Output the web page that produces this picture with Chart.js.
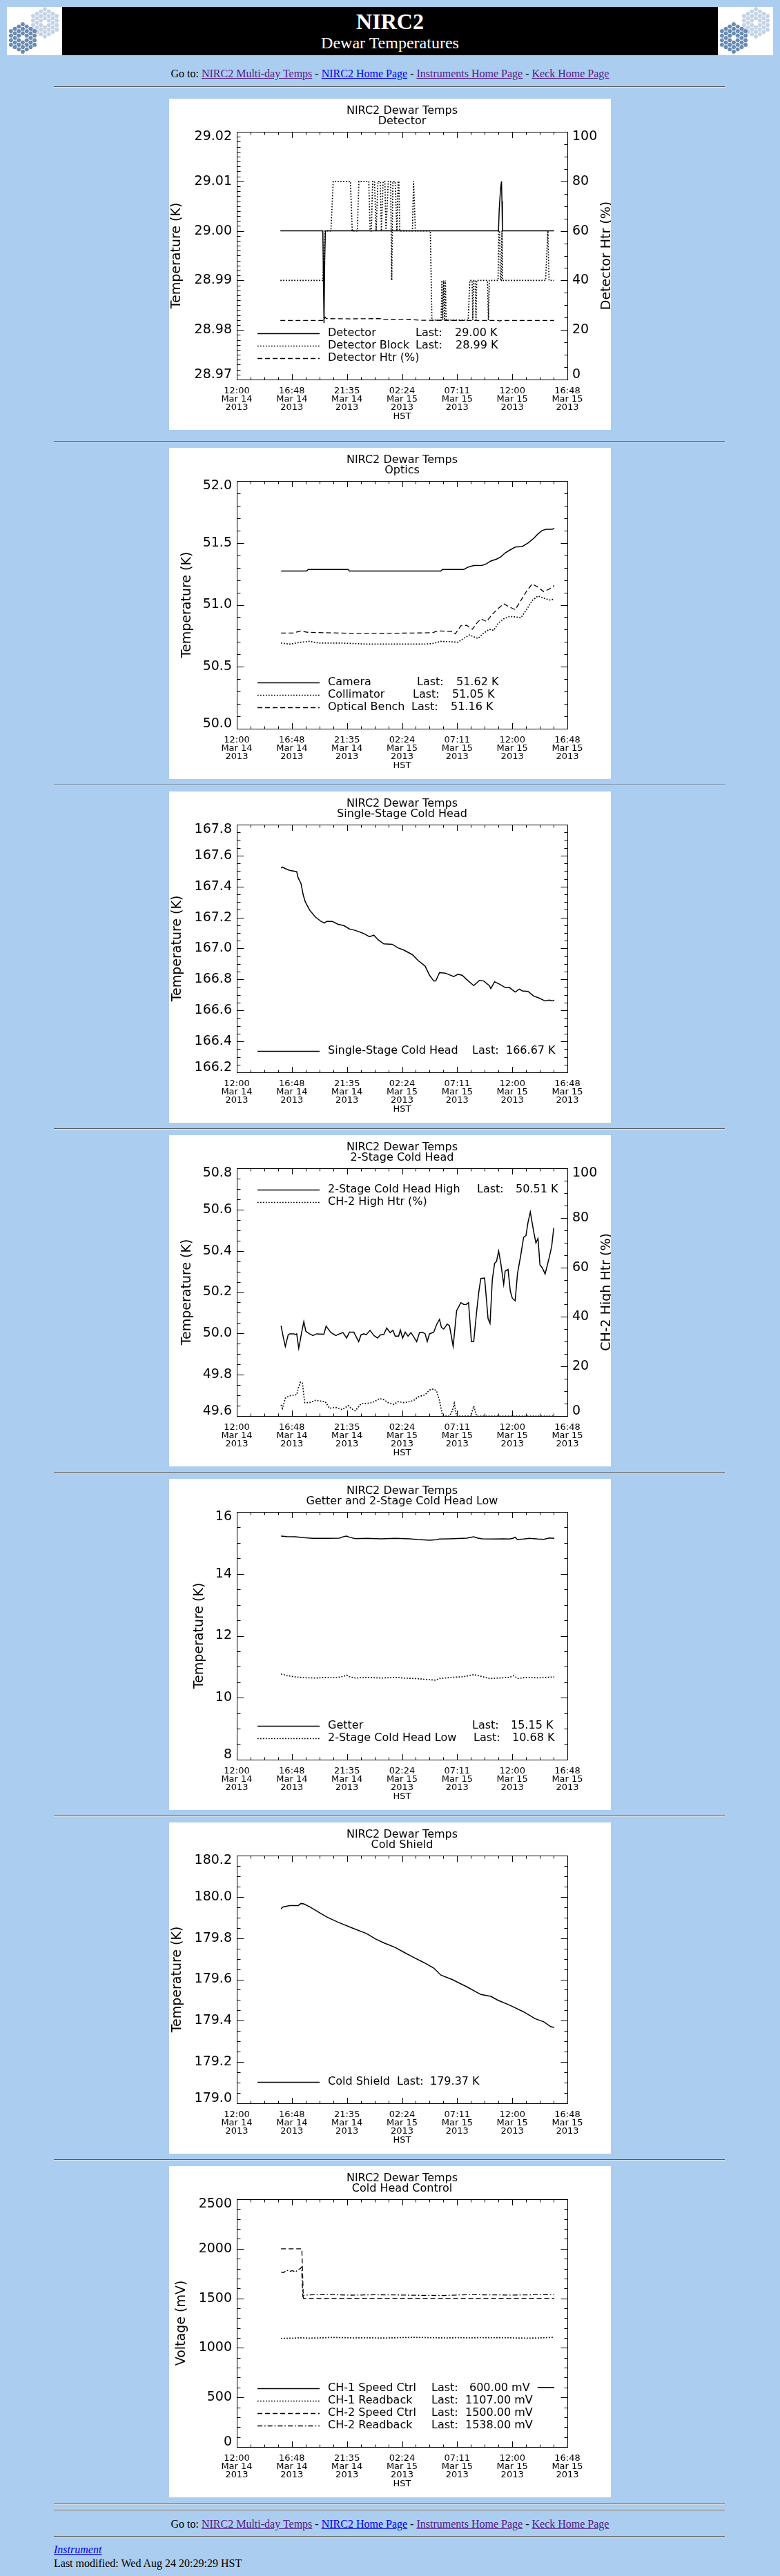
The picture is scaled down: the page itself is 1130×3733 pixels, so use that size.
<!DOCTYPE html>
<html>
<head>
<meta charset="utf-8">
<title>NIRC2 Dewar Temperatures</title>
<script src="https://cdn.jsdelivr.net/npm/chart.js@4.4.1/dist/chart.umd.min.js"></script>
<style>
  body { margin: 0; background: #abcdef; font-family: "Liberation Serif", "Times New Roman", serif; color: #000; }
  #page { position: relative; width: 1130px; height: 3733px; overflow: hidden; }
  .hr { position: absolute; left: 78px; width: 972px; height: 0; border-top: 1px solid #5b5b5b; border-bottom: 1px solid #d9e4ef; }
  .line { position: absolute; font-size: 16px; line-height: 16px; white-space: nowrap; }
  .goto { left: 0; width: 1130px; text-align: center; }
  a { color: #551a8b; }
  a.fresh { color: #0000ee; }
  canvas.plot { position: absolute; left: 245px; background: #fff; }
  .logo { position: absolute; top: 10px; }
  #band { position: absolute; left: 90px; top: 10px; width: 950px; height: 70px; background: #000; color: #fff; text-align: center; }
  #band div { position: absolute; left: 0; right: 0; }
</style>
</head>
<body>
<div id="page">
  <canvas id="logoL" class="logo" width="80" height="70" style="left:10px"></canvas>
  <div id="band">
    <div style="top:5px;font-size:32px;line-height:32px;font-weight:bold">NIRC2</div>
    <div style="top:40px;font-size:24px;line-height:24px">Dewar Temperatures</div>
  </div>
  <canvas id="logoR" class="logo" width="80" height="70" style="left:1040px"></canvas>

  <div class="line goto" style="top:99px">Go to: <a href="#">NIRC2 Multi-day Temps</a> - <a class="fresh" href="#">NIRC2 Home Page</a> - <a href="#">Instruments Home Page</a> - <a href="#">Keck Home Page</a></div>
  <div class="hr" style="top:125px"></div>

  <canvas id="c1" class="plot" width="640" height="480" style="top:143px"></canvas>
  <div class="hr" style="top:639px"></div>
  <canvas id="c2" class="plot" width="640" height="480" style="top:649px"></canvas>
  <div class="hr" style="top:1137px"></div>
  <canvas id="c3" class="plot" width="640" height="480" style="top:1147px"></canvas>
  <div class="hr" style="top:1635px"></div>
  <canvas id="c4" class="plot" width="640" height="480" style="top:1645px"></canvas>
  <div class="hr" style="top:2133px"></div>
  <canvas id="c5" class="plot" width="640" height="480" style="top:2143px"></canvas>
  <div class="hr" style="top:2631px"></div>
  <canvas id="c6" class="plot" width="640" height="480" style="top:2641px"></canvas>
  <div class="hr" style="top:3129px"></div>
  <canvas id="c7" class="plot" width="640" height="480" style="top:3139px"></canvas>

  <div class="hr" style="top:3628px"></div>
  <div class="hr" style="top:3637px"></div>
  <div class="line goto" style="top:3650px">Go to: <a href="#">NIRC2 Multi-day Temps</a> - <a class="fresh" href="#">NIRC2 Home Page</a> - <a href="#">Instruments Home Page</a> - <a href="#">Keck Home Page</a></div>
  <div class="hr" style="top:3675px"></div>
  <div class="line" style="left:78px;top:3687px"><i><a class="fresh" href="#">Instrument</a></i></div>
  <div class="line" style="left:78px;top:3707px">Last modified: Wed Aug 24 20:29:29 HST</div>
</div>

<script>
const FONT = '"DejaVu Sans", Verdana, sans-serif';
Chart.defaults.font.family = FONT;
Chart.defaults.color = '#000';

// time axis: hours after 12:00 HST, Mar 14 2013
const xTickHours = [0, 4.8, 9.6, 14.4, 19.2, 24, 28.8];
const xTickTimes = ['12:00', '16:48', '21:35', '02:24', '07:11', '12:00', '16:48'];
const xTickDates = ['Mar 14', 'Mar 14', 'Mar 14', 'Mar 15', 'Mar 15', 'Mar 15', 'Mar 15'];
const xTickYears = ['2013', '2013', '2013', '2013', '2013', '2013', '2013'];

// detector
const detTicks = ['28.97', '28.98', '28.99', '29.00', '29.01', '29.02'];
const pctTicks = ['0', '20', '40', '60', '80', '100'];
const detTime = [3.80, 7.50, 7.53, 7.57, 7.60, 7.66, 7.72, 22.80, 22.86, 22.92, 23.00, 23.06, 23.10, 23.14, 27.64];
const detTemp = [29.000, 29.000, 28.9937, 28.9867, 28.9814, 28.9937, 29.000, 29.000, 29.0042, 29.0065, 29.009, 29.010, 29.006, 29.000, 29.000];
const blkTime = [3.80, 7.50, 7.70, 8.20, 8.40, 9.90, 10.06, 10.50, 10.64, 11.50,
  11.62, 11.72, 11.84, 12.00, 12.14, 12.30, 12.50, 12.60, 12.75, 12.90,
  13.00, 13.20, 13.40, 13.50, 13.60, 13.80, 13.95, 14.06, 14.12, 14.20,
  15.30, 15.40, 15.56, 16.86, 17.00, 17.80, 17.87, 17.94, 18.02, 18.10,
  18.17, 18.24, 20.16, 20.30, 20.50, 20.56, 20.62, 20.76, 20.84, 20.90,
  21.84, 21.92, 22.00, 22.76, 22.82, 22.90, 22.96, 23.04, 23.10, 23.16,
  26.90, 27.10, 27.20, 27.64];
const blkTemp = [28.990, 28.990, 29.000, 29.000, 29.010, 29.010, 29.000, 29.000, 29.010, 29.010,
  29.000, 29.000, 29.010, 29.010, 29.000, 29.010, 29.010, 29.000, 29.010, 29.010,
  29.000, 29.010, 29.010, 28.990, 29.010, 29.010, 29.000, 29.010, 29.010, 29.000,
  29.000, 29.010, 29.000, 29.000, 28.982, 28.982, 28.990, 28.982, 28.990, 28.982,
  28.990, 28.982, 28.982, 28.990, 28.990, 28.982, 28.990, 28.990, 28.982, 28.990,
  28.990, 28.982, 28.990, 28.990, 29.000, 29.000, 28.990, 28.990, 29.000, 28.990,
  28.990, 29.000, 28.990, 28.990];
const htrTime = [3.80, 7.60, 7.70, 7.80, 10.00, 12.50, 12.70, 15.00, 16.00, 22.80, 22.90, 23.00, 27.64];
const htrPct = [23.85, 23.85, 25.2, 24.6, 24.5, 24.6, 24.2, 24.3, 23.9, 23.85, 23.6, 23.85, 23.85];

// optics
const optTicks = ['50.0', '50.5', '51.0', '51.5', '52.0'];
const camTime = [3.86, 6.09, 6.22, 9.70, 9.82, 17.78, 17.91, 19.77, 20.14, 20.64, 21.39, 21.76, 22.13,
  22.63, 23.01, 23.38, 23.75, 24.25, 24.87, 25.37, 25.86, 26.24, 26.61, 26.98, 27.48, 27.66];
const camTemp = [51.273, 51.273, 51.286, 51.286, 51.273, 51.273, 51.286, 51.286, 51.304, 51.317, 51.319, 51.332, 51.354,
  51.369, 51.388, 51.419, 51.440, 51.466, 51.471, 51.499, 51.536, 51.573, 51.601, 51.610, 51.610, 51.618];
const colTime = [3.86, 4.60, 5.60, 6.34, 7.09, 8.83, 10.07, 11.32, 13.80, 16.29,
  17.04, 17.78, 18.78, 19.27, 19.77, 20.27, 20.64, 21.02, 21.51, 22.01,
  22.38, 22.76, 23.25, 23.75, 24.25, 24.75, 25.24, 25.74, 26.24, 26.74, 27.23, 27.66];
const colTemp = [50.692, 50.683, 50.698, 50.705, 50.692, 50.692, 50.688, 50.683, 50.683, 50.683,
  50.687, 50.705, 50.701, 50.698, 50.729, 50.757, 50.742, 50.729, 50.772, 50.803,
  50.794, 50.850, 50.887, 50.906, 50.903, 50.896, 50.961, 51.035, 51.072, 51.054, 51.039, 51.045];
const benTime = [3.86, 4.85, 5.60, 6.09, 7.59, 10.07, 12.56, 15.05, 17.04, 17.53,
  18.78, 19.03, 19.52, 20.02, 20.52, 20.89, 21.26, 21.76, 22.26, 22.76,
  23.25, 23.75, 24.25, 24.75, 25.24, 25.74, 26.24, 26.74, 27.23, 27.66];
const benTemp = [50.772, 50.772, 50.790, 50.779, 50.775, 50.770, 50.770, 50.772, 50.775, 50.790,
  50.785, 50.766, 50.831, 50.835, 50.803, 50.850, 50.887, 50.865, 50.924, 50.970,
  51.008, 50.983, 50.961, 51.035, 51.110, 51.169, 51.143, 51.106, 51.128, 51.156];

// single-stage cold head
const sschTicks = ['166.2', '166.4', '166.6', '166.8', '167.0', '167.2', '167.4', '167.6', '167.8'];
const sschTime = [3.86, 3.98, 4.23, 4.60, 5.22, 5.35, 5.60, 5.79, 5.97, 6.34,
  6.84, 7.34, 7.64, 7.83, 8.33, 8.83, 9.33, 9.82, 10.07, 10.57,
  11.07, 11.56, 11.94, 12.31, 12.81, 13.55, 14.05, 14.55, 15.30, 15.79,
  16.41, 16.79, 17.16, 17.33, 17.66, 18.16, 18.90, 19.27, 19.65, 20.02,
  20.64, 21.14, 21.51, 22.01, 22.13, 22.46, 22.88, 23.38, 23.75, 24.25,
  24.62, 24.87, 25.37, 25.86, 26.36, 26.86, 27.23, 27.48, 27.66];
const sschTemp = [167.519, 167.526, 167.516, 167.505, 167.496, 167.456, 167.419, 167.345, 167.301, 167.249,
  167.204, 167.175, 167.164, 167.175, 167.175, 167.156, 167.148, 167.126, 167.122, 167.111,
  167.096, 167.076, 167.086, 167.056, 167.030, 167.027, 167.004, 166.990, 166.960, 166.923,
  166.886, 166.827, 166.790, 166.790, 166.844, 166.841, 166.819, 166.834, 166.826, 166.800,
  166.760, 166.794, 166.790, 166.760, 166.741, 166.785, 166.770, 166.748, 166.748, 166.719,
  166.738, 166.726, 166.723, 166.693, 166.679, 166.661, 166.667, 166.661, 166.667];

// 2-stage cold head
const ch2Ticks = ['49.6', '49.8', '50.0', '50.2', '50.4', '50.6', '50.8'];
const ch2hTime = [3.86, 4.05, 4.23, 4.48, 4.60, 4.97, 5.10, 5.22, 5.40, 5.65,
  5.84, 6.02, 6.34, 6.64, 6.96, 7.59, 7.78, 8.21, 8.63, 8.95,
  9.25, 9.57, 9.82, 10.20, 10.62, 10.82, 11.07, 11.27, 11.61, 11.94,
  12.26, 12.51, 12.81, 13.06, 13.36, 13.60, 13.80, 14.10, 14.25, 14.45,
  14.67, 14.92, 15.17, 15.34, 15.67, 15.92, 16.17, 16.41, 16.59, 16.79,
  17.16, 17.41, 17.66, 17.83, 18.03, 18.33, 18.53, 18.85, 19.15, 19.52,
  19.77, 19.97, 20.19, 20.44, 20.64, 20.89, 21.09, 21.26, 21.59, 21.89,
  22.06, 22.26, 22.46, 22.63, 22.81, 23.00, 23.25, 23.38, 23.63, 23.83,
  24.00, 24.25, 24.45, 24.75, 24.99, 25.19, 25.37, 25.57, 25.86, 26.06,
  26.24, 26.41, 26.61, 26.86, 27.23, 27.43, 27.61];
const ch2hTemp = [50.037, 49.982, 49.937, 49.993, 49.998, 49.998, 49.995, 49.998, 49.928, 50.004,
  50.057, 50.010, 49.998, 49.990, 49.998, 49.996, 50.035, 50.004, 49.990, 49.998,
  50.004, 49.978, 50.006, 50.006, 49.960, 49.993, 49.998, 49.993, 50.015, 49.990,
  49.978, 49.993, 49.995, 50.026, 50.004, 50.015, 49.987, 49.987, 50.017, 49.978,
  50.006, 49.987, 50.004, 49.990, 49.960, 50.004, 50.006, 49.998, 49.960, 49.998,
  50.006, 50.043, 50.068, 50.029, 50.021, 50.045, 50.037, 49.937, 50.110, 50.149,
  50.141, 50.140, 50.149, 49.960, 49.960, 50.104, 50.204, 50.266, 50.268, 50.071,
  50.049, 50.260, 50.340, 50.349, 50.399, 50.340, 50.238, 50.302, 50.310, 50.204,
  50.171, 50.158, 50.288, 50.383, 50.466, 50.474, 50.538, 50.588, 50.494, 50.438,
  50.460, 50.332, 50.318, 50.288, 50.371, 50.421, 50.511];
const ch2HtrTime = [3.86, 3.98, 4.23, 4.60, 5.22, 5.40, 5.55, 5.72, 5.92, 6.34,
  6.84, 7.71, 8.08, 8.58, 9.20, 9.70, 9.95, 10.32, 10.82, 11.32,
  11.81, 12.43, 12.81, 13.18, 13.68, 14.05, 14.55, 15.05, 15.42, 15.79,
  16.41, 16.79, 17.16, 17.41, 17.66, 17.91, 18.16, 18.53, 18.78, 18.95,
  19.15, 20.39, 20.64, 20.89, 27.66];
const ch2HtrPct = [4.5, 3.1, 7.2, 8.2, 8.6, 11.9, 13.7, 13.3, 5.4, 5.4,
  6.3, 5.8, 3.1, 3.5, 2.6, 4.2, 3.1, 2.1, 4.9, 5.1,
  5.4, 7.0, 6.6, 5.4, 4.7, 5.8, 5.4, 5.8, 6.3, 7.7,
  8.6, 10.5, 10.9, 10.0, 6.3, 0.3, 0, 0, 2.1, 5.1,
  0, 0, 4.0, 0, 0];

// getter and 2-stage cold head low
const getTicks = ['8', '10', '12', '14', '16'];
const getTime = [3.86, 4.35, 5.10, 5.84, 6.59, 7.83, 8.95, 9.33, 9.57, 9.82,
  10.32, 11.32, 12.56, 13.80, 15.05, 15.79, 16.79, 17.41, 17.66, 18.53,
  20.02, 20.64, 21.01, 21.39, 22.26, 23.25, 23.75, 24.05, 24.25, 24.45,
  24.99, 25.49, 26.24, 26.74, 27.23, 27.66];
const getTemp = [15.221, 15.206, 15.199, 15.169, 15.147, 15.147, 15.154, 15.206, 15.221, 15.184,
  15.139, 15.147, 15.132, 15.147, 15.132, 15.109, 15.087, 15.102, 15.124, 15.132,
  15.154, 15.199, 15.154, 15.132, 15.124, 15.132, 15.124, 15.147, 15.184, 15.109,
  15.124, 15.147, 15.124, 15.117, 15.161, 15.147];
const lowTime = [3.86, 4.35, 5.10, 5.84, 6.84, 7.83, 8.83, 9.33, 9.57, 9.82,
  10.32, 11.32, 12.56, 13.80, 14.55, 15.54, 16.79, 17.29, 17.66, 18.78,
  19.77, 20.64, 21.26, 22.01, 22.76, 23.75, 24.12, 24.50, 25.24, 26.24, 26.98, 27.66];
const lowTemp = [10.768, 10.716, 10.672, 10.649, 10.635, 10.657, 10.657, 10.694, 10.731, 10.679,
  10.635, 10.657, 10.635, 10.657, 10.635, 10.620, 10.583, 10.568, 10.620, 10.657,
  10.679, 10.746, 10.694, 10.620, 10.635, 10.657, 10.709, 10.620, 10.657, 10.642, 10.657, 10.672];

// cold shield
const shTicks = ['179.0', '179.2', '179.4', '179.6', '179.8', '180.0', '180.2'];
const shTime = [3.86, 3.98, 4.60, 5.35, 5.60, 5.84, 6.34, 7.09, 7.83, 8.83,
  10.07, 11.32, 12.06, 12.81, 13.80, 14.55, 15.30, 16.29, 17.16, 17.78,
  18.78, 20.02, 21.26, 22.13, 22.76, 23.75, 24.99, 25.99, 26.74, 27.36, 27.66];
const shTemp = [179.941, 179.950, 179.958, 179.958, 179.968, 179.966, 179.952, 179.927, 179.903, 179.877,
  179.849, 179.822, 179.797, 179.777, 179.755, 179.732, 179.710, 179.682, 179.655, 179.621,
  179.599, 179.565, 179.527, 179.518, 179.499, 179.476, 179.443, 179.410, 179.395, 179.371, 179.368];

// cold head control
const mvTicks = ['0', '500', '1000', '1500', '2000', '2500'];
const ch1sTime = [3.86, 27.66];
const ch1sVolt = [600, 600];
const ch1rTime = [3.86, 4.60, 5.60, 6.30, 7.10, 8.10, 9.30, 10.20, 11.30, 12.50, 13.50, 14.50, 15.40,
  16.40, 17.30, 18.30, 19.30, 20.30, 21.30, 22.30, 23.30, 24.30, 25.30, 26.30, 27.66];
const ch1rVolt = [1095, 1097, 1102, 1098, 1100, 1105, 1103, 1100, 1102, 1099, 1101, 1104, 1106,
  1104, 1102, 1100, 1103, 1101, 1104, 1102, 1103, 1100, 1098, 1100, 1107];
const ch2sTime = [3.86, 5.67, 5.80, 27.66];
const ch2sVolt = [2000, 2000, 1500, 1500];
const ch2rTime = [3.86, 4.10, 4.35, 4.60, 4.85, 5.10, 5.35, 5.55, 5.65, 5.75, 5.85, 6.30,
  8.00, 10.00, 12.00, 14.00, 16.00, 18.00, 20.00, 22.00, 24.00, 26.00, 27.66];
const ch2rVolt = [1765, 1760, 1785, 1770, 1780, 1765, 1790, 1800, 1815, 1520, 1530, 1535,
  1538, 1532, 1536, 1534, 1530, 1528, 1537, 1535, 1533, 1536, 1538];

const DASH = { solid: [], dot: [1.7, 2.3], dash: [7, 4], dashdot: [7, 3, 1.7, 3] };
const WIDTH = { solid: 1.5, dot: 1.7, dash: 1.3, dashdot: 1.3 };

// per-panel decorations drawn by the idl plugin
const panels = {
  c1: { sub: 'Detector', yMinor: 10, y2Minor: 4, y2Title: 'Detector Htr (%)', legend: [
    { style: 'solid', y: 340, label: 'Detector', lastX: 357, value: '29.00 K', valueX: 414 },
    { style: 'dot', y: 358, label: 'Detector Block', lastX: 357, value: '28.99 K', valueX: 415 },
    { style: 'dash', y: 376, label: 'Detector Htr (%)' }] },
  c2: { sub: 'Optics', yMinor: 5, legend: [
    { style: 'solid', y: 340, label: 'Camera', lastX: 359, value: '51.62 K', valueX: 416 },
    { style: 'dot', y: 358, label: 'Collimator', lastX: 353, value: '51.05 K', valueX: 410 },
    { style: 'dash', y: 376, label: 'Optical Bench', lastX: 351, value: '51.16 K', valueX: 408 }] },
  c3: { sub: 'Single-Stage Cold Head', yMinor: 4, legend: [
    { style: 'solid', y: 376, label: 'Single-Stage Cold Head', lastX: 439, value: '166.67 K', valueX: 488 }] },
  c4: { sub: '2-Stage Cold Head', yMinor: 4, y2Minor: 4, y2Title: 'CH-2 High Htr (%)', legend: [
    { style: 'solid', y: 79, label: '2-Stage Cold Head High', lastX: 446, value: '50.51 K', valueX: 502 },
    { style: 'dot', y: 97, label: 'CH-2 High Htr (%)' }] },
  c5: { sub: 'Getter and 2-Stage Cold Head Low', yMinor: 4, legend: [
    { style: 'solid', y: 358, label: 'Getter', lastX: 439, value: '15.15 K', valueX: 495 },
    { style: 'dot', y: 376, label: '2-Stage Cold Head Low', lastX: 441, value: '10.68 K', valueX: 497 }] },
  c6: { sub: 'Cold Shield', yMinor: 4, legend: [
    { style: 'solid', y: 376, label: 'Cold Shield', lastX: 330, value: '179.37 K', valueX: 378 }] },
  c7: { sub: 'Cold Head Control', yMinor: 5, legend: [
    { style: 'solid', y: 322, label: 'CH-1 Speed Ctrl', lastX: 380, value: '600.00 mV', valueX: 435 },
    { style: 'dot', y: 340, label: 'CH-1 Readback', lastX: 380, value: '1107.00 mV', valueX: 429 },
    { style: 'dash', y: 358, label: 'CH-2 Speed Ctrl', lastX: 380, value: '1500.00 mV', valueX: 429 },
    { style: 'dashdot', y: 376, label: 'CH-2 Readback', lastX: 380, value: '1538.00 mV', valueX: 429 }] }
};

function tickMarks(ctx, scale, nMinor, side, a) {
  const vals = scale.ticks.map(t => t.value);
  const step = (vals[1] - vals[0]) / nMinor;
  const n = Math.round((vals[vals.length - 1] - vals[0]) / step);
  ctx.beginPath();
  for (let i = 0; i <= n; i++) {
    const p = Math.round(scale.getPixelForValue(vals[0] + i * step)) + 0.5;
    const major = i % nMinor === 0;
    if (side === 'bottom' || side === 'top') {
      const len = major ? 8.5 : 4;
      const y0 = side === 'bottom' ? a.bottom + 0.5 : a.top + 0.5;
      ctx.moveTo(p, y0);
      ctx.lineTo(p, side === 'bottom' ? y0 - len : y0 + len);
    } else {
      const len = major ? 10 : 5;
      const x0 = side === 'left' ? a.left + 0.5 : a.right + 0.5;
      ctx.moveTo(x0, p);
      ctx.lineTo(side === 'left' ? x0 + len : x0 - len, p);
    }
  }
  ctx.stroke();
}

function drawLegend(ctx, rows) {
  ctx.font = '16px ' + FONT;
  let right = 0;
  rows.forEach(r => {
    const end = r.value ? r.valueX + ctx.measureText(r.value).width : 230 + ctx.measureText(r.label).width;
    right = Math.max(right, end);
  });
  const top = rows[0].y - 10, bottom = rows[rows.length - 1].y + 10;
  ctx.fillStyle = '#fff';
  ctx.fillRect(118, top, right + 7 - 118, bottom - top);
  rows.forEach(r => {
    ctx.strokeStyle = '#000';
    ctx.lineWidth = WIDTH[r.style];
    ctx.setLineDash(DASH[r.style]);
    ctx.beginPath();
    ctx.moveTo(128, r.y + 0.5);
    ctx.lineTo(218, r.y + 0.5);
    ctx.stroke();
    ctx.setLineDash([]);
    ctx.fillStyle = '#000';
    ctx.textAlign = 'left';
    ctx.textBaseline = 'middle';
    ctx.fillText(r.label, 230, r.y);
    if (r.value) {
      ctx.fillText('Last:', r.lastX, r.y);
      ctx.fillText(r.value, r.valueX, r.y);
    }
  });
}

const idlPlugin = {
  id: 'idl',
  afterDatasetsDraw(chart) {
    const cfg = panels[chart.canvas.id];
    const ctx = chart.ctx, a = chart.chartArea;
    ctx.save();
    drawLegend(ctx, cfg.legend);
    ctx.strokeStyle = '#000';
    ctx.lineWidth = 1;
    ctx.setLineDash([]);
    ctx.strokeRect(a.left + 0.5, a.top + 0.5, a.right - a.left, a.bottom - a.top);
    const sx = chart.scales.x, sy = chart.scales.y, sy2 = chart.scales.y2;
    tickMarks(ctx, sx, 4, 'bottom', a);
    tickMarks(ctx, sx, 4, 'top', a);
    tickMarks(ctx, sy, cfg.yMinor, 'left', a);
    tickMarks(ctx, sy2 || sy, sy2 ? cfg.y2Minor : cfg.yMinor, 'right', a);
    // plot title
    ctx.fillStyle = '#000';
    ctx.font = '16px ' + FONT;
    ctx.textAlign = 'center';
    ctx.textBaseline = 'middle';
    const cx = (a.left + a.right) / 2;
    ctx.fillText('NIRC2 Dewar Temps', cx, 18);
    ctx.fillText(cfg.sub, cx, 32.5);
    // right axis title, reads upward like IDL's
    if (cfg.y2Title) {
      ctx.translate(634, (a.top + a.bottom) / 2);
      ctx.rotate(-Math.PI / 2);
      ctx.font = '19px ' + FONT;
      ctx.fillText(cfg.y2Title, 0, 0);
    }
    ctx.restore();
  }
};

function series(t, v, style, axis) {
  return {
    data: t.map((x, i) => ({ x: x, y: v[i] })),
    borderColor: '#000',
    borderWidth: WIDTH[style],
    borderDash: DASH[style],
    pointRadius: 0,
    tension: 0,
    fill: false,
    yAxisID: axis || 'y'
  };
}

function xScale() {
  return {
    type: 'linear', min: 0, max: 28.8,
    afterBuildTicks: s => { s.ticks = xTickHours.map(v => ({ value: v })); },
    afterFit: s => { s.height = 73; },
    grid: { display: false, drawTicks: false },
    border: { display: false },
    ticks: {
      padding: 11, autoSkip: false, maxRotation: 0, color: '#000',
      font: { size: 13, lineHeight: 0.923 },
      callback: (v, i) => [xTickTimes[i], xTickDates[i], xTickYears[i]]
    },
    title: { display: true, text: 'HST', color: '#000', font: { size: 13, lineHeight: 1 }, padding: { top: 0, bottom: 12.5 } }
  };
}

function yScale(labels, side, title, titlePad) {
  const last = labels.length - 1;
  return {
    type: 'linear', position: side,
    min: parseFloat(labels[0]), max: parseFloat(labels[last]),
    afterBuildTicks: s => { s.ticks = labels.map(l => ({ value: parseFloat(l) })); },
    afterFit: s => { s.width = side === 'left' ? 98 : 63; },
    grid: { display: false, drawTicks: false },
    border: { display: false },
    ticks: {
      padding: 7, autoSkip: false, color: '#000',
      font: { size: 19, lineHeight: 0.737 },
      // IDL pulls the end labels inside the axis range
      callback: (v, i) => i === 0 ? [labels[i], ''] : (i === last ? ['', labels[i]] : labels[i])
    },
    title: {
      display: !!title, text: title || '', color: '#000',
      font: { size: 19, lineHeight: 1 }, padding: { top: titlePad || 0, bottom: 0 }
    }
  };
}

function makeChart(id, yTicks, yTitle, titlePad, datasets, y2Ticks) {
  const scales = { x: xScale(), y: yScale(yTicks, 'left', yTitle, titlePad) };
  if (y2Ticks) scales.y2 = yScale(y2Ticks, 'right');
  return new Chart(document.getElementById(id), {
    type: 'line',
    data: { datasets: datasets },
    options: {
      responsive: false,
      animation: false,
      devicePixelRatio: 1,
      events: [],
      layout: { padding: { top: 48, right: y2Ticks ? 0 : 63, left: 0, bottom: 0 } },
      plugins: { legend: { display: false }, tooltip: { enabled: false } },
      scales: scales
    },
    plugins: [idlPlugin]
  });
}

makeChart('c1', detTicks, 'Temperature (K)', 1.7, [
  series(detTime, detTemp, 'solid'),
  series(blkTime, blkTemp, 'dot'),
  series(htrTime, htrPct, 'dash', 'y2')
], pctTicks);

makeChart('c2', optTicks, 'Temperature (K)', 16.2, [
  series(camTime, camTemp, 'solid'),
  series(colTime, colTemp, 'dot'),
  series(benTime, benTemp, 'dash')
]);

makeChart('c3', sschTicks, 'Temperature (K)', 2.7, [
  series(sschTime, sschTemp, 'solid')
]);

makeChart('c4', ch2Ticks, 'Temperature (K)', 16.2, [
  series(ch2hTime, ch2hTemp, 'solid'),
  series(ch2HtrTime, ch2HtrPct, 'dot', 'y2')
], pctTicks);

makeChart('c5', getTicks, 'Temperature (K)', 34.8, [
  series(getTime, getTemp, 'solid'),
  series(lowTime, lowTemp, 'dot')
]);

makeChart('c6', shTicks, 'Temperature (K)', 2.3, [
  series(shTime, shTemp, 'solid')
]);

makeChart('c7', mvTicks, 'Voltage (mV)', 8.9, [
  series(ch1sTime, ch1sVolt, 'solid'),
  series(ch1rTime, ch1rVolt, 'dot'),
  series(ch2sTime, ch2sVolt, 'dash'),
  series(ch2rTime, ch2rVolt, 'dashdot')
]);

// Keck primary mirror logos
function mirror(c, cx, cy, col) {
  const s = 6.6;
  c.fillStyle = col;
  for (let q = -3; q <= 3; q++) {
    for (let r = -3; r <= 3; r++) {
      if (Math.abs(q + r) > 3 || (q === 0 && r === 0)) continue;
      const x = cx + s * 0.866 * q, y = cy + s * (r + q / 2);
      c.beginPath();
      for (let k = 0; k < 6; k++) {
        const ang = Math.PI / 3 * k;
        c.lineTo(x + 3.3 * Math.cos(ang), y + 3.3 * Math.sin(ang));
      }
      c.closePath();
      c.fill();
    }
  }
}
['logoL', 'logoR'].forEach(id => {
  const c = document.getElementById(id).getContext('2d');
  c.fillStyle = '#fff';
  c.fillRect(0, 0, 80, 70);
  mirror(c, 55, 23, '#c4d3e5');
  mirror(c, 23, 45, '#6a8bb3');
});
</script>
</body>
</html>
